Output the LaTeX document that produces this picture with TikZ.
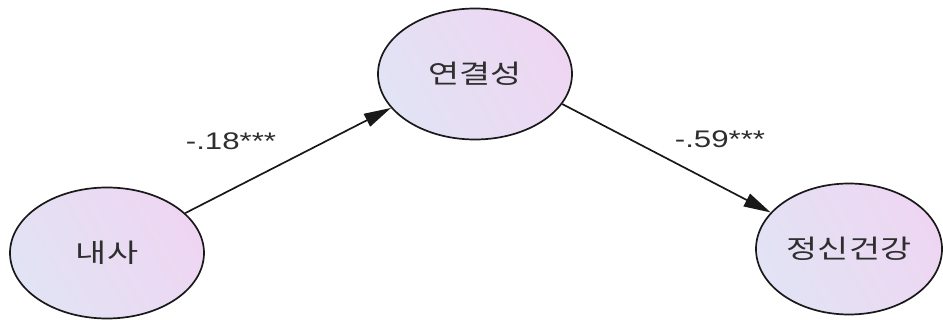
\documentclass[tikz,border=0pt]{standalone}
\usepackage{fontspec}
\setmainfont{Liberation Sans}
\newfontfamily\kr{Noto Sans CJK KR}
\usetikzlibrary{shapes.geometric,arrows.meta}
\definecolor{lavA}{HTML}{E2E3F4}
\definecolor{lavB}{HTML}{EED6F2}
\definecolor{txt}{HTML}{2E2E2E}
\tikzset{
  latent/.style={ellipse, draw=black!90, line width=1.7pt, inner sep=0pt,
    left color=lavA, right color=lavB, shading angle=120,
    minimum width=194pt, minimum height=131pt, text=txt,
    font=\kr\fontsize{26}{30}\selectfont},
  path/.style={draw=black!90, line width=1.7pt, -{Triangle[length=27pt,width=14pt]}},
  coef/.style={text=txt, font=\fontsize{24}{28}\selectfont, inner sep=0pt}
}
\newcommand{\wide}[1]{\scalebox{1.3}[1]{#1}}
\begin{document}
\begin{tikzpicture}[x=1pt,y=-1pt]
\useasboundingbox (0,0) rectangle (943,320);
\node[latent] (L) at (107,253) {\wide{내사}};
\node[latent] (M) at (475,74) {\wide{연결성}};
\node[latent, minimum width=186pt] (R) at (849,249) {\wide{정신건강}};
\draw[path] (L.27) -- (M.202);
\draw[path] (M.-19) -- (R.155);
\node[coef] (c1) at (231,141) {\wide{-.18***}};
\node[coef] (c2) at (720,139) {\wide{-.59***}};
\end{tikzpicture}
\end{document}
